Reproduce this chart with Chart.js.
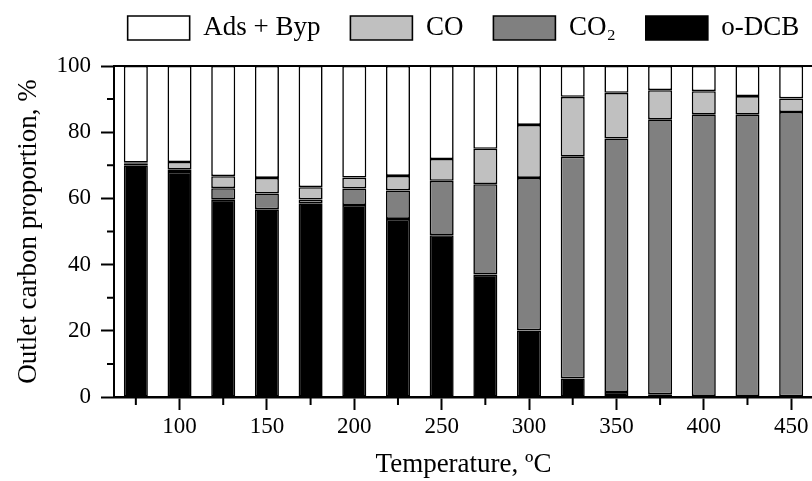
<!DOCTYPE html>
<html>
<head>
<meta charset="utf-8">
<title>Outlet carbon proportion vs temperature</title>
<script src="https://cdn.jsdelivr.net/npm/chart.js@4/dist/chart.umd.min.js"></script>
<style>
  html, body { margin: 0; padding: 0; width: 812px; height: 481px; overflow: hidden; background: #fff; }
  #wrap { position: absolute; left: 0; top: 0; width: 830px; height: 481px; }
</style>
</head>
<body>
<div id="wrap"><canvas id="c" width="830" height="481"></canvas></div>
<script>
// Reaction temperatures (ºC)
const temperatures = [75, 100, 125, 150, 175, 200, 225, 250, 275, 300, 325, 350, 375, 400, 425, 450];
// Outlet carbon proportion of each product, %
const oDCB   = [70.0, 68.0, 59.6, 56.7, 58.5, 58.0, 53.8, 48.9, 37.0, 20.1, 5.6, 1.5, 0.8, 0.3, 0.3, 0.2];
const co2    = [0.6, 0.8, 3.5, 4.8, 1.2, 5.0, 8.6, 16.4, 27.3, 46.1, 67.0, 76.6, 83.1, 85.1, 85.1, 85.9];
const co     = [0.2, 2.2, 3.6, 4.7, 3.7, 3.3, 4.4, 6.6, 10.7, 16.0, 18.1, 13.8, 8.8, 7.0, 5.5, 4.1];
const adsByp = [29.2, 29.0, 33.3, 33.8, 36.6, 33.7, 33.2, 28.1, 25.0, 17.8, 9.3, 8.1, 7.3, 7.6, 9.1, 9.8];
// Labelled ticks
const xTickLabels = [100, 150, 200, 250, 300, 350, 400, 450];
const yTickLabels = [0, 20, 40, 60, 80, 100];

const FONT = "'Liberation Serif', 'Times New Roman', serif";
const LEGEND_HEIGHT = 66;
const LEGEND_SHIFT = -15.5;
const LEGEND_SPREAD = 100;

// Legend kept on one row, frame (top/right edges) and short minor tick marks
const frameAndMinorTicks = {
  id: 'frameAndMinorTicks',
  beforeLayout(chart) {
    const lg = chart.legend;
    if (lg && !lg._tuned) {
      lg._tuned = true;
      const fit = lg.fit;
      lg.fit = function () {
        this.maxWidth = 2000;
        fit.call(this);
        this.height = LEGEND_HEIGHT;
      };
      const draw = lg.draw;
      lg.draw = function () {
        const c = this.ctx;
        const left = this.left, right = this.right;
        this.left = left - LEGEND_SPREAD;
        this.right = right + LEGEND_SPREAD;
        c.save();
        c.translate(0, LEGEND_SHIFT);
        draw.apply(this, arguments);
        c.restore();
        this.left = left;
        this.right = right;
      };
    }
  },
  afterDraw(chart) {
    const { ctx, chartArea: a, scales: { x, y } } = chart;
    ctx.save();
    ctx.strokeStyle = '#000';
    ctx.lineWidth = 2;
    ctx.beginPath();
    ctx.moveTo(a.left - 1, a.top);
    ctx.lineTo(a.right, a.top);
    ctx.lineTo(a.right, a.bottom);
    ctx.stroke();
    ctx.beginPath();
    y.ticks.forEach(t => {
      if (!yTickLabels.includes(t.value)) {
        const py = y.getPixelForValue(t.value);
        ctx.moveTo(a.left - 7, py);
        ctx.lineTo(a.left, py);
      }
    });
    temperatures.forEach((t, i) => {
      if (!xTickLabels.includes(t)) {
        const px = x.getPixelForValue(i);
        ctx.moveTo(px, a.bottom);
        ctx.lineTo(px, a.bottom + 8);
      }
    });
    ctx.stroke();
    ctx.restore();
  }
};

const barStyle = {
  borderColor: '#000',
  borderWidth: 1.6,
  borderSkipped: false,
  barPercentage: 0.55,
  categoryPercentage: 1.0
};

new Chart(document.getElementById('c'), {
  type: 'bar',
  data: {
    labels: temperatures,
    datasets: [
      { label: 'o-DCB', data: oDCB, backgroundColor: '#000000', ...barStyle },
      { label: 'CO\u2082', data: co2, backgroundColor: '#808080', ...barStyle },
      { label: 'CO', data: co, backgroundColor: '#c0c0c0', ...barStyle },
      { label: 'Ads + Byp', data: adsByp, backgroundColor: '#ffffff', ...barStyle }
    ]
  },
  options: {
    responsive: false,
    devicePixelRatio: 1,
    animation: false,
    events: [],
    layout: { padding: { left: 0, right: 17, top: 0, bottom: 0 } },
    plugins: {
      tooltip: { enabled: false },
      legend: {
        position: 'top',
        fullSize: false,
        reverse: true,
        labels: {
          boxWidth: 62,
          boxHeight: 24,
          padding: 30,
          color: '#000',
          font: { family: FONT, size: 27 }
        }
      }
    },
    scales: {
      x: {
        stacked: true,
        offset: true,
        afterFit(scale) { scale.height = 84; },
        grid: {
          offset: false,
          drawOnChartArea: false,
          drawTicks: true,
          tickLength: 13,
          tickWidth: 2,
          tickColor: ctx => xTickLabels.includes(temperatures[ctx.index]) ? '#000' : 'rgba(0,0,0,0)'
        },
        border: { display: true, color: '#000', width: 2.5 },
        ticks: {
          autoSkip: false,
          maxRotation: 0,
          padding: 3,
          color: '#000',
          font: { family: FONT, size: 23 },
          callback: (v, i) => xTickLabels.includes(temperatures[i]) ? String(temperatures[i]) : ''
        },
        title: {
          display: true,
          text: 'Temperature, \u00baC',
          color: '#000',
          font: { family: FONT, size: 27 },
          padding: { top: 0, bottom: 0 }
        }
      },
      y: {
        stacked: true,
        min: 0,
        max: 100,
        afterFit(scale) { scale.width = 114; },
        grid: {
          drawOnChartArea: false,
          drawTicks: true,
          tickLength: 13,
          tickWidth: 2,
          tickColor: ctx => yTickLabels.includes(ctx.tick.value) ? '#000' : 'rgba(0,0,0,0)'
        },
        border: { display: true, color: '#000', width: 2 },
        ticks: {
          stepSize: 10,
          padding: 10,
          color: '#000',
          font: { family: FONT, size: 23 },
          callback: v => yTickLabels.includes(v) ? String(v) : ''
        },
        title: {
          display: true,
          text: 'Outlet carbon proportion, %',
          color: '#000',
          font: { family: FONT, size: 27 },
          padding: { top: 13, bottom: 0 }
        }
      }
    }
  },
  plugins: [frameAndMinorTicks]
});
</script>
</body>
</html>
